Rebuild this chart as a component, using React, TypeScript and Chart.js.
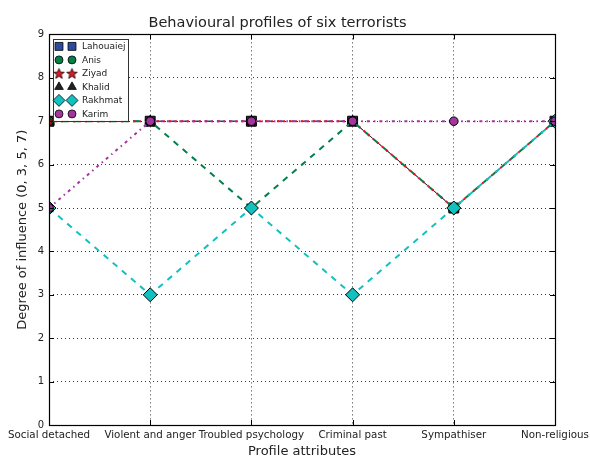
import React, { useEffect, useRef } from "react";
import { Chart, registerables } from "chart.js";

Chart.register(...registerables);

const categories = [
  "Social detached",
  "Violent and anger",
  "Troubled psychology",
  "Criminal past",
  "Sympathiser",
  "Non-religious",
];
const seriesNames = ["Lahouaiej", "Anis", "Ziyad", "Khalid", "Rakhmat", "Karim"];
const lahouaiej = [7, 7, 7, 7, 5, 7];
const anis = [7, 7, 5, 7, 5, 7];
const ziyad = [7, 7, 7, 7, 5, 7];
const khalid = [7, 7, 7, 7, 5, 7];
const rakhmat = [5, 3, 5, 3, 5, 7];
const karim = [5, 7, 7, 7, 7, 7];
const yMin = 0;
const yMax = 9;

const FONT = "'DejaVu Sans', sans-serif";

function makeStar(size: number, fill: string): HTMLCanvasElement {
  const c = document.createElement("canvas");
  c.width = size;
  c.height = size;
  const ctx = c.getContext("2d")!;
  const cx = size / 2;
  const cy = size / 2 + 0.5;
  const R = size / 2 - 1;
  const r = R * 0.42;
  ctx.beginPath();
  for (let i = 0; i < 10; i++) {
    const rad = i % 2 === 0 ? R : r;
    const a = -Math.PI / 2 + (i * Math.PI) / 5;
    const x = cx + rad * Math.cos(a);
    const y = cy + rad * Math.sin(a);
    if (i === 0) ctx.moveTo(x, y);
    else ctx.lineTo(x, y);
  }
  ctx.closePath();
  ctx.fillStyle = fill;
  ctx.fill();
  ctx.lineWidth = 0.8;
  ctx.strokeStyle = "#000";
  ctx.stroke();
  return c;
}

function drawMarker(ctx: CanvasRenderingContext2D, style: any, r: number, x: number, y: number, fill: string) {
  if (style instanceof HTMLCanvasElement) {
    ctx.drawImage(style, x - style.width / 2, y - style.height / 2);
    return;
  }
  ctx.beginPath();
  if (style === "circle") {
    ctx.arc(x, y, r, 0, Math.PI * 2);
  } else if (style === "rect") {
    const s = r * Math.SQRT1_2;
    ctx.rect(x - s, y - s, 2 * s, 2 * s);
  } else if (style === "rectRot") {
    ctx.moveTo(x, y - r);
    ctx.lineTo(x + r, y);
    ctx.lineTo(x, y + r);
    ctx.lineTo(x - r, y);
    ctx.closePath();
  } else if (style === "triangle") {
    ctx.moveTo(x, y - r);
    ctx.lineTo(x + r * 0.87, y + r * 0.5);
    ctx.lineTo(x - r * 0.87, y + r * 0.5);
    ctx.closePath();
  }
  ctx.fillStyle = fill;
  ctx.fill();
  ctx.strokeStyle = "#000";
  ctx.lineWidth = 0.8;
  ctx.stroke();
}

const frameAndLegend = {
  id: "frameAndLegend",
  afterDatasetsDraw(chart: any) {
    const { ctx, chartArea } = chart;
    const { left, right, top, bottom } = chartArea;
    const xs = chart.scales.x;
    const ys = chart.scales.y;
    ctx.save();
    ctx.strokeStyle = "#000";
    ctx.lineWidth = 1;
    ctx.beginPath();
    for (let i = 0; i < categories.length; i++) {
      const px = Math.round(xs.getPixelForValue(i)) + 0.5;
      ctx.moveTo(px, bottom);
      ctx.lineTo(px, bottom - 5);
      ctx.moveTo(px, top);
      ctx.lineTo(px, top + 5);
    }
    for (let v = yMin; v <= yMax; v++) {
      const py = Math.round(ys.getPixelForValue(v)) + 0.5;
      ctx.moveTo(left, py);
      ctx.lineTo(left + 5, py);
      ctx.moveTo(right, py);
      ctx.lineTo(right - 5, py);
    }
    ctx.stroke();
    ctx.lineWidth = 1.2;
    ctx.strokeStyle = "#000";
    ctx.strokeRect(Math.round(left) + 0.5, Math.round(top) + 0.5, Math.round(right - left), Math.round(bottom - top));

    const n = chart.data.datasets.length;
    const bx = left + 4;
    const by = top + 5;
    const bw = 75;
    const rowH = 13.5;
    const bh = rowH * (n - 1) + 14;
    ctx.fillStyle = "#fff";
    ctx.fillRect(bx, by, bw, bh);
    ctx.strokeStyle = "#333";
    ctx.lineWidth = 1;
    ctx.strokeRect(Math.round(bx) + 0.5, Math.round(by) + 0.5, bw, Math.round(bh));
    ctx.font = `9px ${FONT}`;
    ctx.textBaseline = "middle";
    ctx.textAlign = "left";
    chart.data.datasets.forEach((ds: any, i: number) => {
      const cy = by + 7 + i * rowH;
      const lr = ds.legendRadius ?? ds.pointRadius * 0.85;
      for (const mx of [bx + 6, bx + 19]) {
        ctx.save();
        drawMarker(ctx, ds.pointStyle, lr, mx, cy, ds.legendColor ?? ds.pointBackgroundColor);
        ctx.restore();
      }
      ctx.fillStyle = "#222";
      ctx.fillText(ds.label, bx + 29, cy + 0.5);
    });
    ctx.restore();
  },
};

export default function App() {
  const ref = useRef<HTMLCanvasElement>(null);
  useEffect(() => {
    document.body.style.margin = "0";
    const star = makeStar(13, "#e8141e");
    const mk = (
      label: string,
      data: number[],
      color: string,
      pointStyle: any,
      radius: number,
      dash: number[],
      order: number,
      width = 2,
      extra: any = {}
    ) => ({
      label,
      data,
      borderColor: color,
      backgroundColor: color,
      pointBackgroundColor: color,
      pointBorderColor: "#000",
      pointBorderWidth: 1,
      pointStyle,
      pointRadius: radius,
      borderWidth: width,
      borderDash: dash,
      tension: 0,
      fill: false,
      order,
      clip: 0,
      ...extra,
    });
    const datasets = [
      mk(seriesNames[0], lahouaiej, "#2b4ba0", "rect", 7, [6, 6], 6, 1, {
        pointBackgroundColor: "#272a4e",
        legendColor: "#2b4ba0",
        legendRadius: 5.6,
      }),
      mk(seriesNames[1], anis, "#00804a", "circle", 4.5, [6, 6], 4, 2, { legendRadius: 4 }),
      mk(seriesNames[2], ziyad, "#e8141e", star, 6.5, [2, 4], 3),
      mk(seriesNames[3], khalid, "#222222", "triangle", 6, [6, 6], 5, 0.8, { legendRadius: 5 }),
      mk(seriesNames[4], rakhmat, "#12c0c0", "rectRot", 7, [6, 6], 1, 2, { legendRadius: 6 }),
      mk(seriesNames[5], karim, "#a2359e", "circle", 4.3, [3, 4, 1.5, 4], 0, 2, { legendRadius: 4 }),
    ];
    const chart = new Chart(ref.current!, {
      type: "line",
      data: { labels: categories, datasets },
      plugins: [frameAndLegend],
      options: {
        animation: false,
        responsive: false,
        events: [],
        layout: { padding: { left: 0, right: 35, top: 0, bottom: 0 } },
        plugins: {
          legend: { display: false },
          tooltip: { enabled: false },
          title: {
            display: true,
            text: "Behavioural profiles of six terrorists",
            color: "#222",
            font: { family: FONT, size: 14.5, weight: "normal" },
            padding: { top: 15, bottom: 2 },
          },
        },
        scales: {
          x: {
            type: "category",
            offset: false,
            grid: {
              display: true,
              color: "#000",
              lineWidth: 0.8,
              drawTicks: false,
              offset: false,
            },
            border: { display: false, dash: [1, 3] },
            ticks: {
              color: "#222",
              font: { family: FONT, size: 10.3 },
              padding: 4,
              maxRotation: 0,
              autoSkip: false,
            },
            title: {
              display: true,
              text: "Profile attributes",
              color: "#222",
              font: { family: FONT, size: 13 },
              padding: { top: 0, bottom: -3 },
            },
            afterFit: (s: any) => {
              s.height = 31;
              s.paddingLeft = 0;
              s.paddingRight = 0;
            },
          },
          y: {
            min: yMin,
            max: yMax,
            grid: {
              display: true,
              color: "#000",
              lineWidth: 0.8,
              drawTicks: false,
            },
            border: { display: false, dash: [1, 3] },
            ticks: {
              stepSize: 1,
              color: "#222",
              font: { family: FONT, size: 10 },
              padding: 5,
            },
            title: {
              display: true,
              text: "Degree of influence (0, 3, 5, 7)",
              color: "#222",
              font: { family: FONT, size: 13 },
              padding: { top: 15, bottom: 0 },
            },
            afterFit: (s: any) => {
              s.width = 49;
              s.paddingTop = 0;
              s.paddingBottom = 0;
            },
          },
        },
      } as any,
    });
    return () => chart.destroy();
  }, []);
  return (
    <div style={{ width: 590, height: 456 }}>
      <canvas ref={ref} width={590} height={456} style={{ display: "block" }} />
    </div>
  );
}
